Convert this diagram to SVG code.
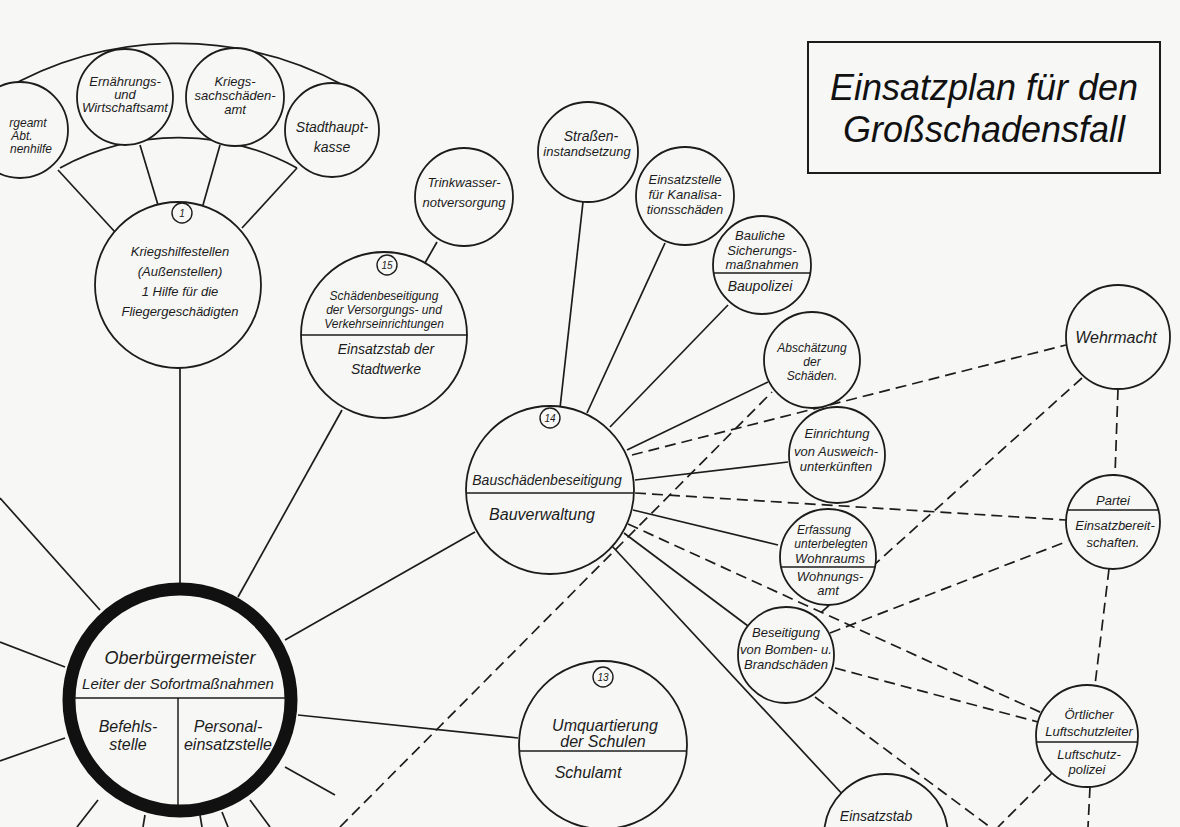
<svg xmlns="http://www.w3.org/2000/svg" width="1180" height="827" viewBox="0 0 1180 827">
<style>
.bg{fill:#f7f7f5}
.c{fill:#f7f7f5;stroke:#1c1c1c;stroke-width:1.8}
.ln{stroke:#1c1c1c;stroke-width:1.7;fill:none}
.ds{stroke:#1c1c1c;stroke-width:1.7;fill:none;stroke-dasharray:11 6}
.dv{stroke:#1c1c1c;stroke-width:1.5}
.t{font-family:"Liberation Sans",Arial,sans-serif;font-style:italic;font-size:13px;fill:#1c1c1c;text-anchor:middle}
.s{font-size:12px}
.m{font-size:14px}
.l{font-size:16px}
.tn{font-family:"Liberation Sans",Arial,sans-serif;font-style:italic;font-size:10px;fill:#1c1c1c;text-anchor:middle}
.num{fill:#f7f7f5;stroke:#1c1c1c;stroke-width:1.4}
.title{font-family:"Liberation Sans",Arial,sans-serif;font-style:italic;font-size:36px;fill:#111;text-anchor:middle}
</style>
<rect class="bg" x="0" y="0" width="1180" height="827"/>

<g id="connectors">
  <path class="ln" d="M 0 92 A 349 349 0 0 1 345 86"/>
  <path class="ln" d="M 60 168 A 247 247 0 0 1 297 168"/>
  <line class="ln" x1="180" y1="368" x2="180" y2="583"/>
  <line class="ln" x1="58" y1="170" x2="115" y2="232"/>
  <line class="ln" x1="140" y1="145" x2="158" y2="205"/>
  <line class="ln" x1="220" y1="145" x2="203" y2="205"/>
  <line class="ln" x1="297" y1="168" x2="242" y2="228"/>
  <line class="ln" x1="437" y1="242" x2="425" y2="263"/>
  <line class="ln" x1="342" y1="410" x2="238" y2="597"/>
  <line class="ln" x1="285" y1="640" x2="475" y2="532"/>
  <line class="ln" x1="298" y1="715" x2="518" y2="738"/>
  <line class="ln" x1="100" y1="610" x2="0" y2="498"/>
  <line class="ln" x1="65" y1="667" x2="0" y2="642"/>
  <line class="ln" x1="65" y1="738" x2="0" y2="761"/>
  <line class="ln" x1="98" y1="800" x2="77" y2="827"/>
  <line class="ln" x1="145" y1="815" x2="143" y2="827"/>
  <line class="ln" x1="200" y1="815" x2="202" y2="827"/>
  <line class="ln" x1="222" y1="812" x2="228" y2="827"/>
  <line class="ln" x1="250" y1="800" x2="270" y2="827"/>
  <line class="ln" x1="285" y1="767" x2="335" y2="795"/>
  <line class="ln" x1="583" y1="202" x2="560" y2="408"/>
  <line class="ln" x1="665" y1="243" x2="587" y2="413"/>
  <line class="ln" x1="728" y1="305" x2="610" y2="427"/>
  <line class="ln" x1="768" y1="382" x2="627" y2="450"/>
  <line class="ln" x1="788" y1="462" x2="635" y2="480"/>
  <line class="ln" x1="778" y1="545" x2="633" y2="510"/>
  <line class="ln" x1="624" y1="533" x2="748" y2="626"/>
  <line class="ln" x1="612" y1="546" x2="845" y2="797"/>
  <line class="ds" x1="340" y1="827" x2="772" y2="392"/>
  <line class="ds" x1="632" y1="455" x2="1066" y2="345"/>
  <line class="ds" x1="635" y1="493" x2="1066" y2="520"/>
  <line class="ds" x1="1082" y1="378" x2="815" y2="618"/>
  <line class="ds" x1="830" y1="633" x2="1068" y2="541"/>
  <line class="ds" x1="1118" y1="389" x2="1115" y2="475"/>
  <line class="ds" x1="1109" y1="569" x2="1095" y2="685"/>
  <line class="ds" x1="835" y1="668" x2="1038" y2="722"/>
  <line class="ds" x1="628" y1="524" x2="1042" y2="713"/>
  <line class="ds" x1="815" y1="697" x2="990" y2="827"/>
  <line class="ds" x1="1052" y1="773" x2="998" y2="827"/>
  <line class="ds" x1="1090" y1="787" x2="1088" y2="827"/>
</g>

<g id="title">
  <rect x="808" y="42" width="352" height="131" fill="none" stroke="#1c1c1c" stroke-width="2"/>
  <text class="title" x="984" y="100">Einsatzplan für den</text>
  <text class="title" x="984" y="142">Großschadensfall</text>
</g>

<g id="n-fuersorge">
  <circle class="c" cx="20" cy="130" r="48"/>
  <text class="t s" x="28" y="127">rgeamt</text>
  <text class="t s" x="22" y="140">Abt.</text>
  <text class="t s" x="31" y="153">nenhilfe</text>
</g>
<g id="n-ernaehrung">
  <circle class="c" cx="125" cy="97" r="48"/>
  <text class="t" x="125" y="86">Ernährungs-</text>
  <text class="t" x="125" y="99">und</text>
  <text class="t" x="125" y="112">Wirtschaftsamt</text>
</g>
<g id="n-kriegssach">
  <circle class="c" cx="235" cy="97" r="49"/>
  <text class="t" x="235" y="86">Kriegs-</text>
  <text class="t" x="235" y="100">sachschäden-</text>
  <text class="t" x="235" y="114">amt</text>
</g>
<g id="n-stadthaupt">
  <circle class="c" cx="332" cy="130" r="47"/>
  <text class="t m" x="332" y="132">Stadthaupt-</text>
  <text class="t m" x="332" y="152">kasse</text>
</g>
<g id="n-kriegshilfe">
  <circle class="c" cx="178" cy="285" r="83"/>
  <circle class="num" cx="182" cy="213" r="10"/>
  <text class="tn" x="182" y="217">1</text>
  <text class="t" x="180" y="256">Kriegshilfestellen</text>
  <text class="t" x="180" y="276">(Außenstellen)</text>
  <text class="t" x="180" y="296">1 Hilfe für die</text>
  <text class="t" x="180" y="316">Fliegergeschädigten</text>
</g>
<g id="n-trinkwasser">
  <circle class="c" cx="464" cy="197" r="49"/>
  <text class="t" x="464" y="187">Trinkwasser-</text>
  <text class="t" x="464" y="207">notversorgung</text>
</g>
<g id="n-15">
  <circle class="c" cx="384" cy="335" r="83"/>
  <circle class="num" cx="387" cy="265" r="10"/>
  <text class="tn" x="387" y="269">15</text>
  <text class="t s" x="384" y="300">Schädenbeseitigung</text>
  <text class="t s" x="384" y="314">der Versorgungs- und</text>
  <text class="t s" x="384" y="328">Verkehrseinrichtungen</text>
  <line class="dv" x1="301" y1="335" x2="467" y2="335"/>
  <text class="t m" x="386" y="354">Einsatzstab der</text>
  <text class="t m" x="386" y="374">Stadtwerke</text>
</g>
<g id="n-strassen">
  <circle class="c" cx="588" cy="152" r="50"/>
  <text class="t m" x="591" y="141">Straßen-</text>
  <text class="t" x="587" y="156">instandsetzung</text>
</g>
<g id="n-kanal">
  <circle class="c" cx="685" cy="196" r="49"/>
  <text class="t" x="685" y="184">Einsatzstelle</text>
  <text class="t" x="685" y="199">für Kanalisa-</text>
  <text class="t" x="685" y="214">tionsschäden</text>
</g>
<g id="n-bauliche">
  <circle class="c" cx="762" cy="265" r="49"/>
  <text class="t" x="760" y="240">Bauliche</text>
  <text class="t" x="762" y="255">Sicherungs-</text>
  <text class="t" x="762" y="269">maßnahmen</text>
  <line class="dv" x1="714" y1="273" x2="810" y2="273"/>
  <text class="t m" x="760" y="291">Baupolizei</text>
</g>
<g id="n-abschaetzung">
  <circle class="c" cx="812" cy="360" r="48"/>
  <text class="t s" x="812" y="352">Abschätzung</text>
  <text class="t s" x="812" y="366">der</text>
  <text class="t s" x="812" y="380">Schäden.</text>
</g>
<g id="n-einrichtung">
  <circle class="c" cx="837" cy="455" r="48"/>
  <text class="t" x="837" y="438">Einrichtung</text>
  <text class="t" x="836" y="456">von Ausweich-</text>
  <text class="t" x="836" y="471">unterkünften</text>
</g>
<g id="n-erfassung">
  <circle class="c" cx="828" cy="557" r="48"/>
  <text class="t s" x="824" y="534">Erfassung</text>
  <text class="t s" x="831" y="548">unterbelegten</text>
  <text class="t" x="830" y="563">Wohnraums</text>
  <line class="dv" x1="781" y1="567" x2="875" y2="567"/>
  <text class="t" x="830" y="581">Wohnungs-</text>
  <text class="t" x="828" y="595">amt</text>
</g>
<g id="n-beseitigung">
  <circle class="c" cx="786" cy="655" r="48"/>
  <text class="t" x="786" y="637">Beseitigung</text>
  <text class="t" x="786" y="654">von Bomben- u.</text>
  <text class="t" x="786" y="669">Brandschäden</text>
</g>
<g id="n-14">
  <circle class="c" cx="550" cy="490" r="84"/>
  <circle class="num" cx="550" cy="418" r="10"/>
  <text class="tn" x="550" y="422">14</text>
  <text class="t m" x="547" y="485">Bauschädenbeseitigung</text>
  <line class="dv" x1="466" y1="493" x2="634" y2="493"/>
  <text class="t l" x="542" y="520">Bauverwaltung</text>
</g>
<g id="n-13">
  <circle class="c" cx="603" cy="745" r="84"/>
  <circle class="num" cx="603" cy="677" r="10"/>
  <text class="tn" x="603" y="681">13</text>
  <text class="t l" x="605" y="731">Umquartierung</text>
  <text class="t l" x="603" y="747">der Schulen</text>
  <line class="dv" x1="519" y1="751" x2="687" y2="751"/>
  <text class="t l" x="588" y="778">Schulamt</text>
</g>
<g id="n-einsatzstab">
  <circle class="c" cx="886" cy="836" r="62"/>
  <text class="t m" x="876" y="821">Einsatzstab</text>
</g>
<g id="n-wehrmacht">
  <circle class="c" cx="1118" cy="337" r="52"/>
  <text class="t l" x="1116" y="343">Wehrmacht</text>
</g>
<g id="n-partei">
  <circle class="c" cx="1113" cy="522" r="47"/>
  <text class="t" x="1113" y="505">Partei</text>
  <line class="dv" x1="1067" y1="510" x2="1159" y2="510"/>
  <text class="t" x="1115" y="530">Einsatzbereit-</text>
  <text class="t" x="1113" y="547">schaften.</text>
</g>
<g id="n-oertlicher">
  <circle class="c" cx="1087" cy="736" r="51"/>
  <text class="t" x="1089" y="719">Örtlicher</text>
  <text class="t" x="1089" y="736">Luftschutzleiter</text>
  <line class="dv" x1="1037" y1="742" x2="1137" y2="742"/>
  <text class="t" x="1089" y="759">Luftschutz-</text>
  <text class="t" x="1087" y="774">polizei</text>
</g>
<g id="n-oberbuergermeister">
  <circle cx="180" cy="700" r="111" fill="#f7f7f5" stroke="#111" stroke-width="13"/>
  <line class="dv" x1="74" y1="698" x2="286" y2="698"/>
  <line class="dv" x1="178" y1="698" x2="178" y2="805"/>
  <text class="t" style="font-size:18px" x="180" y="664">Oberbürgermeister</text>
  <text class="t" style="font-size:15px" x="178" y="689">Leiter der Sofortmaßnahmen</text>
  <text class="t l" x="128" y="732">Befehls-</text>
  <text class="t l" x="128" y="750">stelle</text>
  <text class="t l" x="228" y="732">Personal-</text>
  <text class="t l" x="228" y="750">einsatzstelle</text>
</g>
</svg>
